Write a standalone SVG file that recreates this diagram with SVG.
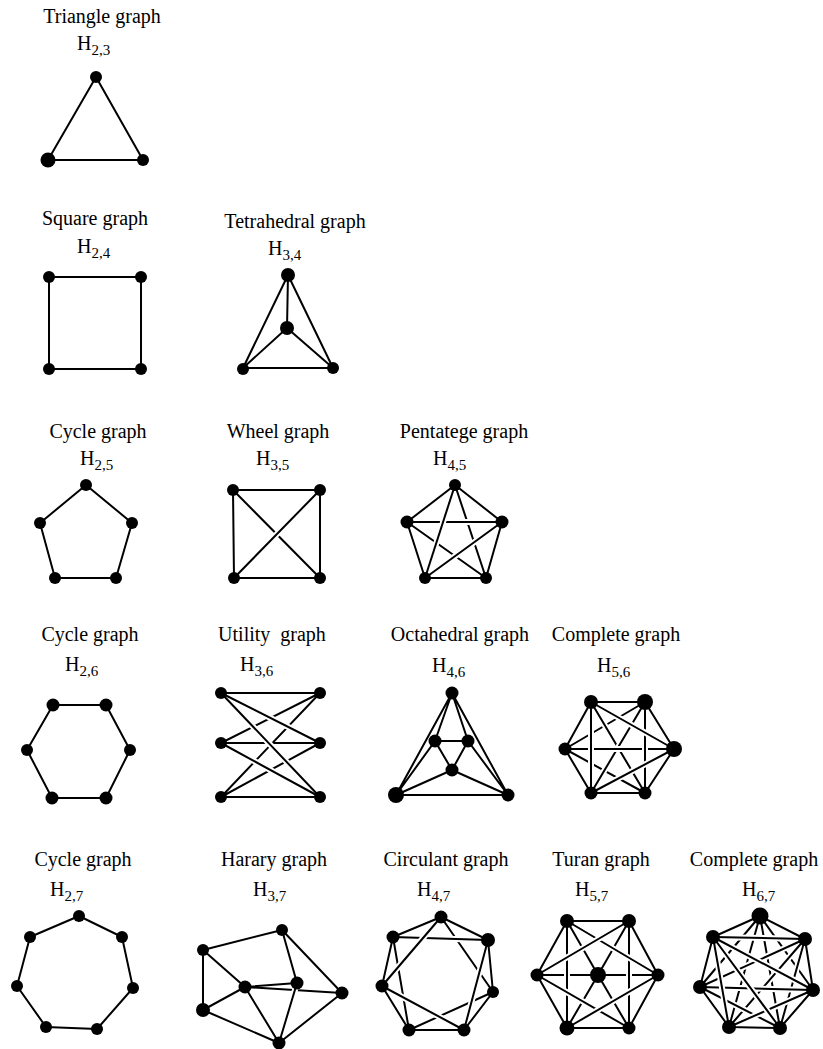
<svg xmlns="http://www.w3.org/2000/svg" width="823" height="1049" viewBox="0 0 823 1049">
<style>
  text { font-family: "Liberation Serif", "Times New Roman", serif; fill: #000; }
  .t { font-size: 20px; text-anchor: middle; }
  .h { font-size: 20px; }
  .s { font-size: 15px; }
  .e { fill: none; stroke: #000; stroke-width: 2; stroke-linecap: round; stroke-linejoin: round; }
  /* white under-stroke that breaks the edges an edge passes over */
  .x { fill: none; stroke: #fff; stroke-width: 6; stroke-linecap: butt; stroke-dasharray: 0 12 76 12; }
  .v circle { fill: #000; }
</style>
<rect width="823" height="1049" fill="#fff"/>

<!-- Row 1 -->
<g id="triangle-graph">
  <text class="t" x="102" y="23">Triangle graph</text>
  <text class="h" x="77" y="50">H<tspan class="s" dy="5">2,3</tspan></text>
  <g class="e"><path d="M96 77L143 160H48Z"/></g>
  <g class="v"><circle cx="96" cy="77" r="6"/><circle cx="48" cy="160" r="7.5"/><circle cx="143" cy="160" r="6"/></g>
</g>

<!-- Row 2 -->
<g id="square-graph">
  <text class="t" x="95" y="225">Square graph</text>
  <text class="h" x="77" y="253">H<tspan class="s" dy="5">2,4</tspan></text>
  <g class="e"><path d="M49 277H141V369H49Z"/></g>
  <g class="v"><circle cx="49" cy="277" r="6"/><circle cx="141" cy="277" r="6"/><circle cx="141" cy="369" r="6"/><circle cx="49" cy="369" r="6"/></g>
</g>

<g id="tetrahedral-graph">
  <text class="t" x="295" y="228">Tetrahedral graph</text>
  <text class="h" x="268" y="255">H<tspan class="s" dy="5">3,4</tspan></text>
  <g class="e"><path d="M288 275L333 368H243Z M288 275L287 328 M287 328L243 368 M287 328L333 368"/></g>
  <g class="v"><circle cx="288" cy="275" r="7"/><circle cx="287" cy="328" r="7"/><circle cx="243" cy="369" r="6"/><circle cx="333" cy="368" r="6"/></g>
</g>

<!-- Row 3 -->
<g id="cycle-graph-5">
  <text class="t" x="98" y="438">Cycle graph</text>
  <text class="h" x="80" y="465">H<tspan class="s" dy="5">2,5</tspan></text>
  <g class="e"><path d="M86 485L132 523L116 578H55L40 523Z"/></g>
  <g class="v"><circle cx="86" cy="485" r="6"/><circle cx="132" cy="523" r="6"/><circle cx="116" cy="578" r="6"/><circle cx="55" cy="578" r="6"/><circle cx="40" cy="523" r="6"/></g>
</g>

<g id="wheel-graph">
  <text class="t" x="278" y="438">Wheel graph</text>
  <text class="h" x="256" y="465">H<tspan class="s" dy="5">3,5</tspan></text>
  <g class="e">
    <path d="M233 490H320V578H234Z"/>
    <path d="M233 490L320 578"/>
    <path class="x" pathLength="100" d="M234 578L320 490"/><path d="M234 578L320 490"/>
  </g>
  <g class="v"><circle cx="233" cy="490" r="6"/><circle cx="320" cy="490" r="6"/><circle cx="320" cy="578" r="6"/><circle cx="234" cy="578" r="6"/></g>
</g>

<g id="pentatege-graph">
  <text class="t" x="464" y="438">Pentatege graph</text>
  <text class="h" x="433" y="465">H<tspan class="s" dy="5">4,5</tspan></text>
  <g class="e">
    <path d="M455 485L502 522L486 578H425L407 522Z"/>
    <path d="M455 485L486 578 M407 522L486 578"/>
    <path class="x" pathLength="100" d="M407 522H502"/><path d="M407 522H502"/>
    <path class="x" pathLength="100" d="M455 485L425 578"/><path d="M455 485L425 578"/>
    <path class="x" pathLength="100" d="M502 522L425 578"/><path d="M502 522L425 578"/>
  </g>
  <g class="v"><circle cx="455" cy="485" r="6"/><circle cx="502" cy="522" r="6.5"/><circle cx="486" cy="578" r="6"/><circle cx="425" cy="578" r="6"/><circle cx="407" cy="522" r="6.5"/></g>
</g>

<!-- Row 4 -->
<g id="cycle-graph-6">
  <text class="t" x="90" y="641">Cycle graph</text>
  <text class="h" x="65" y="671">H<tspan class="s" dy="5">2,6</tspan></text>
  <g class="e"><path d="M53 705H106L130 750L106 798H52L27 750Z"/></g>
  <g class="v"><circle cx="53" cy="705" r="6.5"/><circle cx="106" cy="705" r="6.5"/><circle cx="130" cy="750" r="6"/><circle cx="106" cy="798" r="6.5"/><circle cx="52" cy="798" r="6.5"/><circle cx="27" cy="750" r="6"/></g>
</g>

<g id="utility-graph">
  <text class="t" x="272" y="641" xml:space="preserve">Utility  graph</text>
  <text class="h" x="240" y="671">H<tspan class="s" dy="5">3,6</tspan></text>
  <g class="e">
    <path d="M221 743L320 693 M221 797L320 693 M221 797L320 743 M221 743H320"/>
    <path class="x" pathLength="100" d="M221 693L320 743"/><path d="M221 693L320 743"/>
    <path class="x" pathLength="100" d="M221 693L320 797"/><path d="M221 693L320 797"/>
    <path class="x" pathLength="100" d="M221 743L320 797"/><path d="M221 743L320 797"/>
    <path d="M221 693H320 M221 797H320"/>
  </g>
  <g class="v"><circle cx="221" cy="693" r="6"/><circle cx="221" cy="743" r="6"/><circle cx="221" cy="797" r="6"/><circle cx="320" cy="693" r="6"/><circle cx="320" cy="743" r="6"/><circle cx="320" cy="797" r="6"/></g>
</g>

<g id="octahedral-graph">
  <text class="t" x="460" y="641">Octahedral graph</text>
  <text class="h" x="432" y="672">H<tspan class="s" dy="5">4,6</tspan></text>
  <g class="e">
    <path d="M452 693L396 795H508Z M452 693L435 741 M452 693L468 741 M435 741H468L452 770Z M435 741L396 795 M468 741L508 795 M452 770L396 795 M452 770L508 795"/>
  </g>
  <g class="v"><circle cx="452" cy="693" r="6.5"/><circle cx="435" cy="741" r="6.5"/><circle cx="468" cy="741" r="6.5"/><circle cx="452" cy="770" r="6.5"/><circle cx="396" cy="795" r="8"/><circle cx="508" cy="795" r="6.5"/></g>
</g>

<g id="complete-graph-6">
  <text class="t" x="616" y="641">Complete graph</text>
  <text class="h" x="597" y="672">H<tspan class="s" dy="5">5,6</tspan></text>
  <g class="e">
    <path d="M591 702H645L674 749L645 793H591L565 749Z"/>
    <path d="M645 702L565 749"/>
    <path class="x" pathLength="100" d="M565 749L645 793"/><path d="M565 749L645 793"/>
    <path class="x" pathLength="100" d="M591 702L645 793"/><path d="M591 702L645 793"/>
    <path class="x" pathLength="100" d="M645 702L591 793"/><path d="M645 702L591 793"/>
    <path class="x" pathLength="100" d="M565 749H674"/><path d="M565 749H674"/>
    <path class="x" pathLength="100" d="M591 702V793"/><path d="M591 702V793"/>
    <path class="x" pathLength="100" d="M645 702V793"/><path d="M645 702V793"/>
    <path class="x" pathLength="100" d="M591 702L674 749"/><path d="M591 702L674 749"/>
    <path class="x" pathLength="100" d="M591 793L674 749"/><path d="M591 793L674 749"/>
  </g>
  <g class="v"><circle cx="591" cy="702" r="7"/><circle cx="645" cy="702" r="8"/><circle cx="674" cy="749" r="8"/><circle cx="645" cy="793" r="6.5"/><circle cx="591" cy="793" r="6.5"/><circle cx="565" cy="749" r="6.5"/></g>
</g>

<!-- Row 5 -->
<g id="cycle-graph-7">
  <text class="t" x="83" y="866">Cycle graph</text>
  <text class="h" x="50" y="896">H<tspan class="s" dy="5">2,7</tspan></text>
  <g class="e"><path d="M79 916L122 937L133 988L97 1029L46 1027L17 986L30 937Z"/></g>
  <g class="v"><circle cx="79" cy="916" r="6"/><circle cx="122" cy="937" r="6"/><circle cx="133" cy="988" r="6"/><circle cx="97" cy="1029" r="6"/><circle cx="46" cy="1027" r="6"/><circle cx="17" cy="986" r="6"/><circle cx="30" cy="937" r="6"/></g>
</g>

<g id="harary-graph">
  <text class="t" x="274" y="866">Harary graph</text>
  <text class="h" x="253" y="896">H<tspan class="s" dy="5">3,7</tspan></text>
  <g class="e">
    <path d="M203 950L282 930L342 993L279 1043L203 1010Z M282 930L297 983 M245 987L203 950 M245 987L297 983 M245 987L203 1010 M245 987L279 1043"/>
    <path d="M245 987L342 993"/>
    <path class="x" pathLength="100" style="stroke-dasharray:0 3 85 12" d="M297 983L279 1043"/><path d="M297 983L279 1043"/>
  </g>
  <g class="v"><circle cx="282" cy="930" r="6"/><circle cx="203" cy="950" r="6"/><circle cx="245" cy="987" r="6.5"/><circle cx="297" cy="983" r="6.5"/><circle cx="342" cy="993" r="6.5"/><circle cx="203" cy="1010" r="7"/><circle cx="279" cy="1043" r="6.5"/></g>
</g>

<g id="circulant-graph">
  <text class="t" x="446" y="866">Circulant graph</text>
  <text class="h" x="417" y="896">H<tspan class="s" dy="5">4,7</tspan></text>
  <g class="e">
    <path d="M441 917L488 940L493 992L464 1030H409L382 986L393 937Z"/>
    <path d="M441 917L493 992 M493 992L409 1030 M409 1030L393 937"/>
    <path class="x" pathLength="100" d="M393 937L488 940"/><path d="M393 937L488 940"/>
    <path class="x" pathLength="100" d="M441 917L382 986"/><path d="M441 917L382 986"/>
    <path class="x" pathLength="100" d="M488 940L464 1030"/><path d="M488 940L464 1030"/>
    <path class="x" pathLength="100" d="M464 1030L382 986"/><path d="M464 1030L382 986"/>
  </g>
  <g class="v"><circle cx="441" cy="917" r="6.5"/><circle cx="488" cy="940" r="7"/><circle cx="493" cy="992" r="6"/><circle cx="464" cy="1030" r="6.5"/><circle cx="409" cy="1030" r="6.5"/><circle cx="382" cy="986" r="6.5"/><circle cx="393" cy="937" r="6.5"/></g>
</g>

<g id="turan-graph">
  <text class="t" x="601" y="866">Turan graph</text>
  <text class="h" x="575" y="896">H<tspan class="s" dy="5">5,7</tspan></text>
  <g class="e">
    <path d="M567 921H629L658 975L629 1028H567L537 975Z"/>
    <path d="M598 975L567 921 M598 975L629 921 M598 975L567 1028 M598 975L629 1028 M537 975H658"/>
    <path class="x" pathLength="100" d="M567 921V1028"/><path d="M567 921V1028"/>
    <path class="x" pathLength="100" d="M629 921V1028"/><path d="M629 921V1028"/>
    <path class="x" pathLength="100" d="M567 921L658 975"/><path d="M567 921L658 975"/>
    <path class="x" pathLength="100" d="M629 1028L537 975"/><path d="M629 1028L537 975"/>
    <path class="x" pathLength="100" d="M629 921L537 975"/><path d="M629 921L537 975"/>
    <path class="x" pathLength="100" d="M567 1028L658 975"/><path d="M567 1028L658 975"/>
  </g>
  <g class="v"><circle cx="567" cy="921" r="7"/><circle cx="629" cy="921" r="7"/><circle cx="658" cy="975" r="6.5"/><circle cx="629" cy="1028" r="6.5"/><circle cx="567" cy="1028" r="7.5"/><circle cx="537" cy="975" r="6.5"/><circle cx="598" cy="975" r="8"/></g>
</g>

<g id="complete-graph-7">
  <text class="t" x="754" y="866">Complete graph</text>
  <text class="h" x="742" y="896">H<tspan class="s" dy="5">6,7</tspan></text>
  <g class="e">
    <path d="M760 916L805 939L813 990L780 1028L729 1027L700 987L713 937Z"/>
    <path d="M760 916L700 987"/>
    <path class="x" pathLength="100" d="M760 916L729 1027"/><path d="M760 916L729 1027"/>
    <path class="x" pathLength="100" d="M760 916L780 1028"/><path d="M760 916L780 1028"/>
    <path class="x" pathLength="100" d="M760 916L813 990"/><path d="M760 916L813 990"/>
    <path class="x" pathLength="100" d="M805 939L729 1027"/><path d="M805 939L729 1027"/>
    <path class="x" pathLength="100" d="M805 939L780 1028"/><path d="M805 939L780 1028"/>
    <path class="x" pathLength="100" d="M780 1028L700 987"/><path d="M780 1028L700 987"/>
    <path class="x" pathLength="100" d="M805 939L700 987"/><path d="M805 939L700 987"/>
    <path class="x" pathLength="100" d="M700 987L813 990"/><path d="M700 987L813 990"/>
    <path class="x" pathLength="100" d="M813 990L729 1027"/><path d="M813 990L729 1027"/>
    <path class="x" pathLength="100" d="M713 937L780 1028"/><path d="M713 937L780 1028"/>
    <path class="x" pathLength="100" d="M713 937L813 990"/><path d="M713 937L813 990"/>
    <path class="x" pathLength="100" d="M713 937L805 939"/><path d="M713 937L805 939"/>
    <path class="x" pathLength="100" d="M713 937L729 1027"/><path d="M713 937L729 1027"/>
  </g>
  <g class="v"><circle cx="760" cy="916" r="8.5"/><circle cx="805" cy="939" r="7"/><circle cx="813" cy="990" r="7"/><circle cx="780" cy="1028" r="7"/><circle cx="729" cy="1027" r="7"/><circle cx="700" cy="987" r="7"/><circle cx="713" cy="937" r="7"/></g>
</g>
</svg>
